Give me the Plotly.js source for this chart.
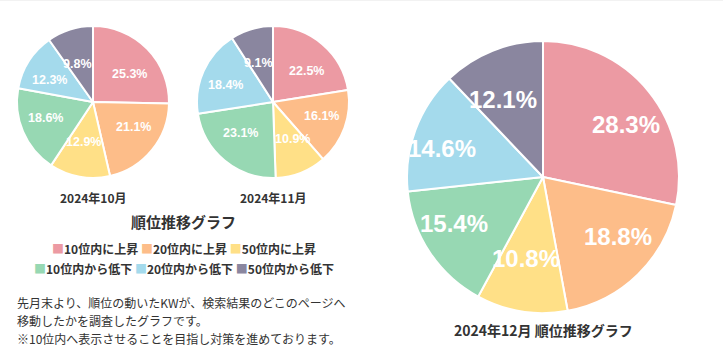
<!DOCTYPE html>
<html>
<head>
<meta charset="utf-8">
<script src="https://cdn.plot.ly/plotly-3.0.1.min.js"></script>
<style>
html,body{margin:0;padding:0;background:#fff;}
#chart{width:723px;height:363px;}
</style>
</head>
<body>
<div id="chart"></div>
<script>
// ---- data ----
const categories = ["10位内に上昇", "20位内に上昇", "50位内に上昇", "10位内から低下", "20位内から低下", "50位内から低下"];
const colors = ["#EC9AA3", "#FDBD89", "#FFE087", "#97D8B3", "#A4DAEC", "#8A869F"];
const oct2024 = [25.3, 21.1, 12.9, 18.6, 12.3, 9.8];
const nov2024 = [22.5, 16.1, 10.9, 23.1, 18.4, 9.1];
const dec2024 = [28.3, 18.8, 10.8, 15.4, 14.6, 12.1];
const pieTitles = ["2024年10月", "2024年11月", "2024年12月 順位推移グラフ"];
const groupTitle = "順位推移グラフ";
const noteLines = [
  "先月末より、順位の動いたKWが、検索結果のどこのページへ",
  "移動したかを調査したグラフです。",
  "※10位内へ表示させることを目指し対策を進めております。"
];

// ---- layout geometry (pixels) ----
const W = 723, H = 363;
const pies = [
  {values: oct2024, cx: 93, cy: 102, r: 76, kx: 0.68, ky: 0.53, fs: 12.5},
  {values: nov2024, cx: 273, cy: 102, r: 76, kx: 0.68, ky: 0.53, fs: 12.5},
  {values: dec2024, cx: 543, cy: 177, r: 136, kx: 0.79, ky: 0.61, fs: 24}
];
const px = x => x / W;
const py = y => 1 - y / H;
const JP = '"Noto Sans CJK JP", "Noto Sans", sans-serif';

const traces = pies.map(p => ({
  type: 'pie',
  values: p.values,
  labels: categories,
  sort: false,
  direction: 'clockwise',
  rotation: 0,
  marker: {colors: colors, line: {color: '#ffffff', width: 2}},
  textinfo: 'none',
  hoverinfo: 'none',
  showlegend: false,
  domain: {x: [px(p.cx - p.r), px(p.cx + p.r)], y: [py(p.cy + p.r), py(p.cy - p.r)]}
}));

const annotations = [];
// percentage labels positioned from the data
pies.forEach(p => {
  const total = p.values.reduce((a, b) => a + b, 0);
  let cum = 0;
  p.values.forEach(v => {
    const mid = (cum + v / 2) / total * 2 * Math.PI;
    cum += v;
    annotations.push({
      x: px(p.cx + p.kx * p.r * Math.sin(mid)),
      y: py(p.cy - p.ky * p.r * Math.cos(mid)),
      text: '<b>' + v.toFixed(1) + '%</b>',
      font: {family: '"Liberation Sans", Arial, sans-serif', size: p.fs, color: '#ffffff'}
    });
  });
});

// pie captions
annotations.push({x: px(93), y: py(197), text: '<b>' + pieTitles[0] + '</b>'});
annotations.push({x: px(273), y: py(197), text: '<b>' + pieTitles[1] + '</b>'});
annotations.push({x: px(183), y: py(221), text: '<b>' + groupTitle + '</b>', font: {family: JP, size: 15, color: '#333333'}});
annotations.push({x: px(543), y: py(330), text: '<b>' + pieTitles[2] + '</b>', font: {family: JP, size: 14, color: '#333333'}});

// legend rows
const legendRows = [[0, 1, 2], [3, 4, 5]];
const legendY = [248, 268];
legendRows.forEach((row, i) => {
  const txt = row.map(j => '<span style="color:' + colors[j] + '">■</span>' + categories[j]).join('&nbsp;');
  annotations.push({x: px(184), y: py(legendY[i]), text: '<b>' + txt + '</b>', font: {family: JP, size: 12, color: '#333333'}});
});

// note text
noteLines.forEach((t, i) => {
  annotations.push({x: px(15), y: py(302 + i * 18), text: t, xanchor: 'left', font: {family: JP, size: 12, color: '#333333'}});
});

annotations.forEach(a => {
  a.xref = 'paper'; a.yref = 'paper'; a.showarrow = false;
  if (!a.xanchor) a.xanchor = 'center';
  a.yanchor = 'middle';
  if (!a.font) a.font = {family: JP, size: 12, color: '#333333'};
});

const layout = {
  width: W, height: H,
  margin: {l: 0, r: 0, t: 0, b: 0},
  paper_bgcolor: '#ffffff',
  annotations: annotations,
  shapes: [{type: 'line', xref: 'paper', yref: 'paper', x0: 0, x1: 1, y0: py(0.5), y1: py(0.5), line: {color: '#f2f2f2', width: 1}}]
};

Plotly.newPlot('chart', traces, layout, {displayModeBar: false, staticPlot: true});
</script>
</body>
</html>
